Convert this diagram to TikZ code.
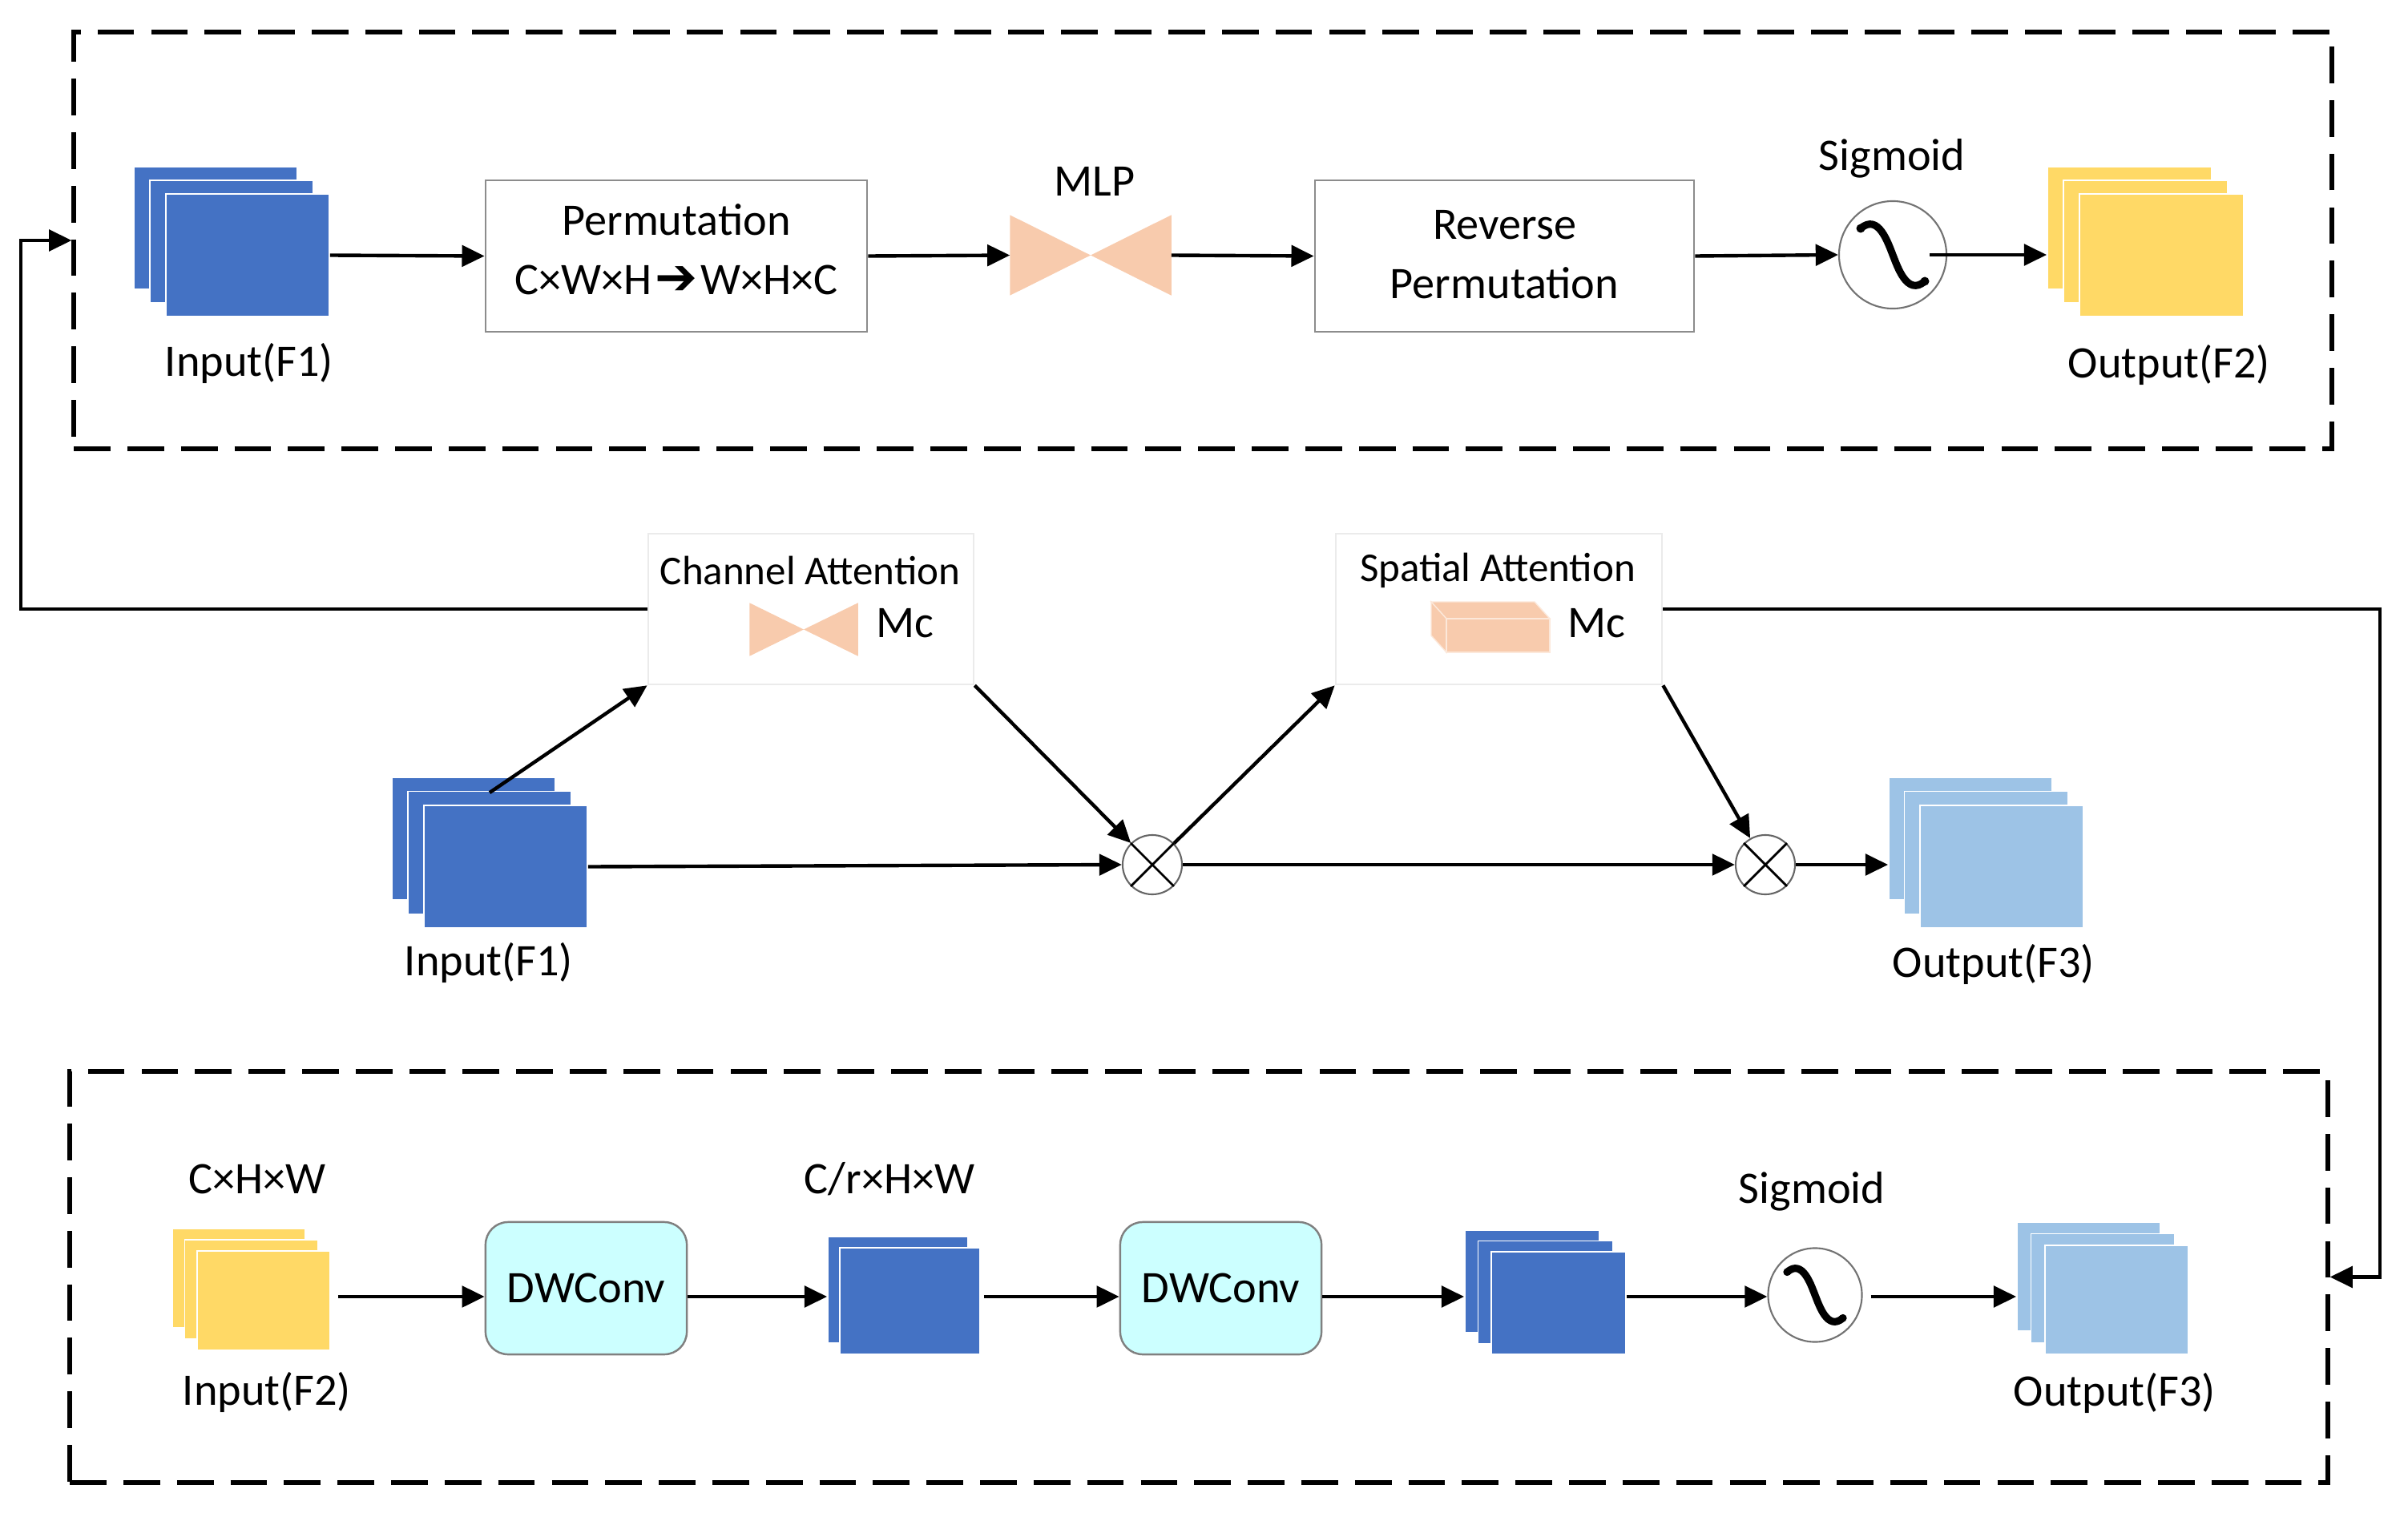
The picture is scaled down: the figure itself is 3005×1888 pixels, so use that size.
\documentclass[tikz,border=0pt]{standalone}
\usepackage{fontspec}
\setmainfont{Carlito}
\newfontfamily\djv{DejaVu Sans}
\usetikzlibrary{arrows.meta,calc}
\definecolor{fblue}{HTML}{4472C4}
\definecolor{fyellow}{HTML}{FFD966}
\definecolor{flblue}{HTML}{9DC3E6}
\definecolor{fpeach}{HTML}{F8CBAD}
\definecolor{fcyan}{HTML}{CCFFFF}
\newcommand{\mkstackthree}[8]{%
  \node[lay,fill=#2,minimum width=#5cm,minimum height=#6cm] (#1a) at (#3-2*#7,#4-2*#8) {};
  \node[lay,fill=#2,minimum width=#5cm,minimum height=#6cm] (#1b) at (#3-#7,#4-#8) {};
  \node[lay,fill=#2,minimum width=#5cm,minimum height=#6cm] (#1) at (#3,#4) {};}
\newcommand{\mkstacktwo}[8]{%
  \node[lay,fill=#2,minimum width=#5cm,minimum height=#6cm] (#1a) at (#3-#7,#4-#8) {};
  \node[lay,fill=#2,minimum width=#5cm,minimum height=#6cm] (#1) at (#3,#4) {};}
\newcommand{\sigglyph}[2]{%
  \begin{scope}[shift={(#1.center)},scale=#2]
    \draw[line width=2.6pt,line cap=round,line join=round]
      (-40,-33) .. controls (-18,-52) and (-6,-15) .. (0,0)
      .. controls (6,15) and (18,52) .. (40,33);
    \fill (-40,-33) circle[radius=5.5];
    \fill (40,33) circle[radius=5.5];
  \end{scope}}
\begin{document}
\begin{tikzpicture}[x=0.01cm,y=-0.01cm,
  font=\fontsize{16}{21}\selectfont,
  lay/.style={rectangle,inner sep=0pt,draw=white,line width=0.5pt},
  conn/.style={-{Triangle[length=8pt,width=7.5pt]},line width=1.25pt},
  dbox/.style={rectangle,draw,inner sep=0pt,line width=1.6pt,dash pattern=on 13pt off 6pt},
  pbox/.style={rectangle,draw=black!45,line width=0.7pt,inner sep=0pt,align=center,fill=white},
  abox/.style={rectangle,draw=black!8,line width=0.7pt,inner sep=0pt,fill=white},
  dwbox/.style={rectangle,draw=black!50,line width=0.7pt,fill=fcyan,rounded corners=8pt,inner sep=0pt,minimum width=2.51cm,minimum height=1.65cm},
  sig/.style={circle,draw=black!55,line width=0.6pt,inner sep=0pt,fill=white},
  mul/.style={circle,draw=black!60,line width=0.6pt,inner sep=0pt,minimum size=0.74cm},
  lbl/.style={inner sep=0pt},
  bow/.style={rectangle,inner sep=0pt}]
\useasboundingbox (0,0) rectangle (3005,1888);

% ---------------- top dashed block ----------------
\node[dbox,minimum width=28.16cm,minimum height=5.2cm] (topbox) at (1501,300) {};
\mkstackthree{in1t}{fblue}{309}{318.5}{2.04}{1.53}{20}{17}
\node[lbl] (in1tl) at (311,453) {Input(F1)};
\node[pbox,minimum width=4.76cm,minimum height=1.89cm] (perm) at (844,319.5) {};
\node[lbl,align=center] (permt) at (844,311)
  {Permutation\\C×W×H\kern1pt{\djv\fontsize{18}{21}\selectfont ➔}\kern1pt W×H×C};
\node[bow,minimum width=2cm,minimum height=0.99cm] (mlp) at (1361,318.5) {};
\fill[fpeach] (mlp.north west) -- (mlp.south west) -- (mlp.center) -- cycle;
\fill[fpeach] (mlp.north east) -- (mlp.south east) -- (mlp.center) -- cycle;
\node[lbl] (mlpl) at (1366,226) {MLP};
\node[pbox,minimum width=4.73cm,minimum height=1.89cm] (rperm) at (1877.5,319.5) {};
\node[lbl,align=center] (rpermt) at (1877.5,318) {Reverse\\Permutation};
\node[sig,minimum size=1.34cm] (sig1) at (2362,318) {};
\sigglyph{sig1}{1}
\node[lbl] (sig1l) at (2361,198) {Sigmoid};
\mkstackthree{out2}{fyellow}{2697.5}{318.5}{2.05}{1.53}{20}{17}
\node[lbl] (out2l) at (2707,455) {Output(F2)};

\draw[conn] (in1t.east) -- (perm.west);
\draw[conn] (perm.east) -- (mlp.west);
\draw[conn] (mlp.east) -- (rperm.west);
\draw[conn] (rperm.east) -- (sig1.west);
\draw[conn] ([xshift=-0.22cm]sig1.east) -- (sig1.east -| out2a.west);

% ---------------- middle row ----------------
\node[abox,minimum width=4.06cm,minimum height=1.88cm] (chatt) at (1012,760) {};
\node[lbl,font=\fontsize{14.5}{17}\selectfont] (chattl) at (1011,712) {Channel Attention};
\node[bow,minimum width=1.34cm,minimum height=0.65cm] (chbow) at (1003,785.5) {};
\fill[fpeach] (chbow.north west) -- (chbow.south west) -- (chbow.center) -- cycle;
\fill[fpeach] (chbow.north east) -- (chbow.south east) -- (chbow.center) -- cycle;
\node[lbl] (chmc) at (1129,778) {Mc};

\node[abox,minimum width=4.07cm,minimum height=1.88cm] (spatt) at (1870.5,760) {};
\node[lbl,font=\fontsize{14.5}{17}\selectfont] (spattl) at (1869,712) {Spatial Attention};
\begin{scope}[fill=fpeach,draw=white!55!fpeach,line width=0.4pt]
  \filldraw (1786,751) -- (1915,751) -- (1934,772) -- (1805,772) -- cycle;
  \filldraw (1786,751) -- (1805,772) -- (1805,814) -- (1786,793) -- cycle;
  \filldraw (1805,772) rectangle (1934,814);
\end{scope}
\node[lbl] (spmc) at (1992,778) {Mc};

\mkstackthree{in1m}{fblue}{631}{1081.5}{2.04}{1.53}{20}{17.5}
\node[lbl] (in1ml) at (610,1201) {Input(F1)};
\node[mul] (mul1) at (1438,1079) {};
\draw[line width=0.8pt] (mul1.north west) -- (mul1.south east) (mul1.north east) -- (mul1.south west);
\node[mul] (mul2) at (2203,1079) {};
\draw[line width=0.8pt] (mul2.north west) -- (mul2.south east) (mul2.north east) -- (mul2.south west);
\mkstackthree{out3m}{flblue}{2498}{1081.5}{2.04}{1.53}{19.5}{17.5}
\node[lbl] (out3ml) at (2488,1203) {Output(F3)};

\draw[conn] ($(in1m.north)+(-20,-15)$) -- (chatt.south west);
\draw[conn] (in1m.east) -- (mul1.west);
\draw[conn] (chatt.south east) -- (mul1);
\draw[conn] (mul1) -- (spatt.south west);
\draw[conn] (mul1) -- (mul2);
\draw[conn] (spatt.south east) -- (mul2);
\draw[conn] (mul2) -- (mul2 -| out3ma.west);

% ---------------- bottom dashed block ----------------
\node[dbox,minimum width=28.16cm,minimum height=5.13cm] (botbox) at (1496,1593.5) {};
\coordinate (brow) at (0,1618);
\node[lbl] (chwl) at (321,1471) {C×H×W};
\mkstackthree{in2}{fyellow}{329}{1623}{1.66}{1.24}{15.5}{14}
\node[lbl] (in2l) at (333,1737) {Input(F2)};
\node[dwbox] (dw1) at (731.5,1607.5) {DWConv};
\node[lbl] (crl) at (1110,1471) {C/r×H×W};
\mkstacktwo{mid2}{fblue}{1135.5}{1623.5}{1.75}{1.33}{15}{14}
\node[dwbox] (dw2) at (1523.5,1607.5) {DWConv};
\mkstackthree{bs3}{fblue}{1945}{1626}{1.68}{1.28}{16.5}{13.5}
\node[sig,minimum size=1.17cm] (sig2) at (2265,1616) {};
\sigglyph{sig2}{0.87}
\node[lbl] (sig2l) at (2261,1487) {Sigmoid};
\mkstackthree{out3b}{flblue}{2641.5}{1622}{1.79}{1.36}{17.5}{14.5}
\node[lbl] (out3bl) at (2639,1738) {Output(F3)};

\draw[conn] ([xshift=0.09cm]in2.east |- brow) -- (dw1.west |- brow);
\draw[conn] (dw1.east |- brow) -- (mid2a.west |- brow);
\draw[conn] ([xshift=0.04cm]mid2.east |- brow) -- (dw2.west |- brow);
\draw[conn] (dw2.east |- brow) -- (bs3a.west |- brow);
\draw[conn] (bs3.east |- brow) -- (sig2.west |- brow);
\draw[conn] ([xshift=0.1cm]sig2.east |- brow) -- (out3ba.west |- brow);

% ---------------- feedback connectors ----------------
\coordinate (lc) at (26,300);
\coordinate (rc) at (2970,1593.5);
\draw[conn] (chatt.west) -| (lc) -- (topbox.west);
\draw[conn] (spatt.east) -| (rc) -- (botbox.east);
\end{tikzpicture}
\end{document}
